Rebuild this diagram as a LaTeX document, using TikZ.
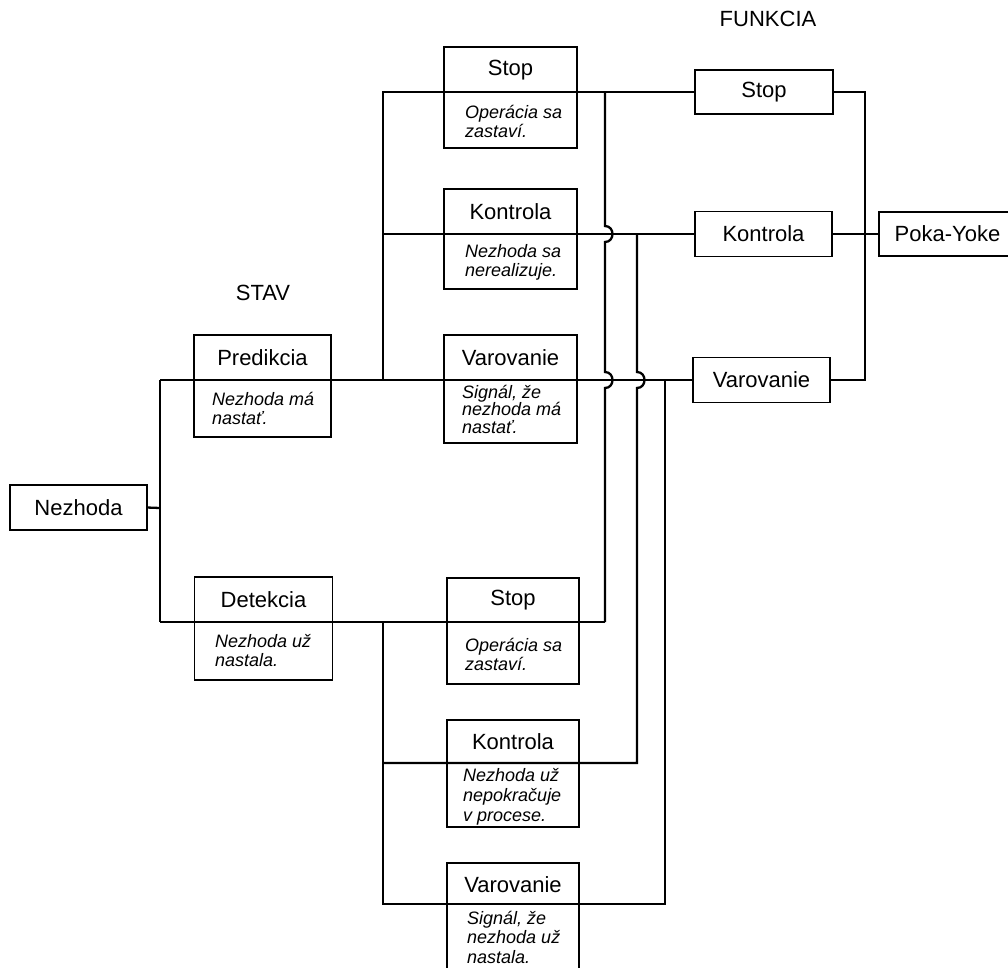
\documentclass[tikz,border=0pt]{standalone}
\usepackage{fontspec}
\setmainfont{Liberation Sans}
\usetikzlibrary{calc}
\begin{document}
\begin{tikzpicture}[x=1pt,y=1pt,
  box/.style={draw, line width=1.8pt, inner sep=0pt, outer sep=0pt},
  title/.style={font=\fontsize{22}{24}\selectfont, inner sep=0pt},
  desc/.style={font=\fontsize{18}{19}\selectfont\itshape, align=left, anchor=base west, inner sep=0pt},
  wire/.style={line width=2.3pt, line join=miter}]
\useasboundingbox (0,0) rectangle (1008,-967);

% column headings
\node[title] (hstav) at (263,-293) {STAV};
\node[title] (hfun) at (768,-19) {FUNKCIA};

% root
\node[box, minimum width=137, minimum height=45, title] (nez) at (78.5,-507.5) {Nezhoda};

% state boxes (descriptions are placed by the baseline of their last line)
\node[box, minimum width=137, minimum height=102] (pred) at (262.5,-386) {};
\node[title] at (262.5,-358) {Predikcia};
\node[desc] at (212,-424) {Nezhoda má\\nastať.};

\node[box, minimum width=138, minimum height=103] (det) at (263.5,-628.5) {};
\node[title] at (263.5,-600) {Detekcia};
\node[desc, font=\fontsize{18}{18.5}\selectfont\itshape] at (215,-666) {Nezhoda už\\nastala.};

% upper group (prediction)
\node[box, minimum width=133, minimum height=101] (s1) at (510.5,-97.5) {};
\node[title] at (510.5,-70) {Stop};
\node[desc] at (465,-137) {Operácia sa\\zastaví.};

\node[box, minimum width=133, minimum height=100] (k1) at (510.5,-239) {};
\node[title] at (510.5,-212) {Kontrola};
\node[desc] at (465,-276) {Nezhoda sa\\nerealizuje.};

\node[box, minimum width=133, minimum height=108] (v1) at (510.5,-389) {};
\node[title] at (510.5,-358) {Varovanie};
\node[desc, font=\fontsize{18}{17.5}\selectfont\itshape] at (462,-433) {Signál, že\\nezhoda má\\nastať.};

% lower group (detection)
\node[box, minimum width=132, minimum height=106] (s2) at (513,-631) {};
\node[title] at (513,-600) {Stop};
\node[desc] at (465,-670) {Operácia sa\\zastaví.};

\node[box, minimum width=132, minimum height=107] (k2) at (513,-773.5) {};
\node[title] at (513,-742) {Kontrola};
\node[desc, font=\fontsize{18}{20}\selectfont\itshape] at (463,-821) {Nezhoda už\\nepokračuje\\v procese.};

\node[box, minimum width=132, minimum height=112] (v2) at (513,-919) {};
\node[title] at (513,-885) {Varovanie};
\node[desc, font=\fontsize{18}{19.5}\selectfont\itshape] at (467,-963) {Signál, že\\nezhoda už\\nastala.};

% function boxes
\node[box, title, minimum width=138, minimum height=44] (fs) at (764,-92) {Stop};
\node[box, title, minimum width=137, minimum height=45] (fk) at (763.5,-234) {Kontrola};
\node[box, title, minimum width=137, minimum height=45] (fv) at (761.5,-380) {Varovanie};
\node[box, minimum width=137, minimum height=44] (py) at (947.5,-234) {};
\node[title] at (947.5,-234) {Poka-Yoke};

% junction points
\coordinate (bN) at (160,-508);
\coordinate (bP) at (160,-380);
\coordinate (bD) at (160,-622);
\coordinate (u1) at (383,-92);
\coordinate (u2) at (383,-234);
\coordinate (u3) at (383,-380);
\coordinate (l1) at (383,-622);
\coordinate (l2) at (383,-763);
\coordinate (l3) at (383,-904);
\coordinate (a1) at (605,-92);
\coordinate (a2) at (605,-622);
\coordinate (b1) at (637,-234);
\coordinate (b2) at (637,-763);
\coordinate (c1) at (665,-380);
\coordinate (c2) at (665,-904);
\coordinate (r1) at (865,-92);
\coordinate (r2) at (865,-380);

% connectors
\draw[wire] (nez.east) -- (bN);
\draw[wire] (bP) -- (bD);
\draw[wire] (bP) -- (fv.west);
\draw[wire] (bD) -- (a2);
\draw[wire] (u3) -- (u1) -- (fs.west);
\draw[wire] (u2) -- (fk.west);
\draw[wire] (l1) -- (l3) -- (c2) -- (c1);
\draw[wire] (l2) -- (b2) -- ($(b1|-bP)+(0,-8)$)
  .. controls +(10,0) and +(10,0) .. ($(b1|-bP)+(0,8)$) -- (b1);
\draw[wire] (a1) -- ($(a1|-u2)+(0,8)$)
  .. controls +(10,0) and +(10,0) .. ($(a1|-u2)+(0,-8)$)
  -- ($(a1|-bP)+(0,8)$)
  .. controls +(10,0) and +(10,0) .. ($(a1|-bP)+(0,-8)$) -- (a2);
\draw[wire] (fs.east) -- (r1) -- (r2) -- (fv.east);
\draw[wire] (fk.east) -- (py.west);
\end{tikzpicture}
\end{document}
